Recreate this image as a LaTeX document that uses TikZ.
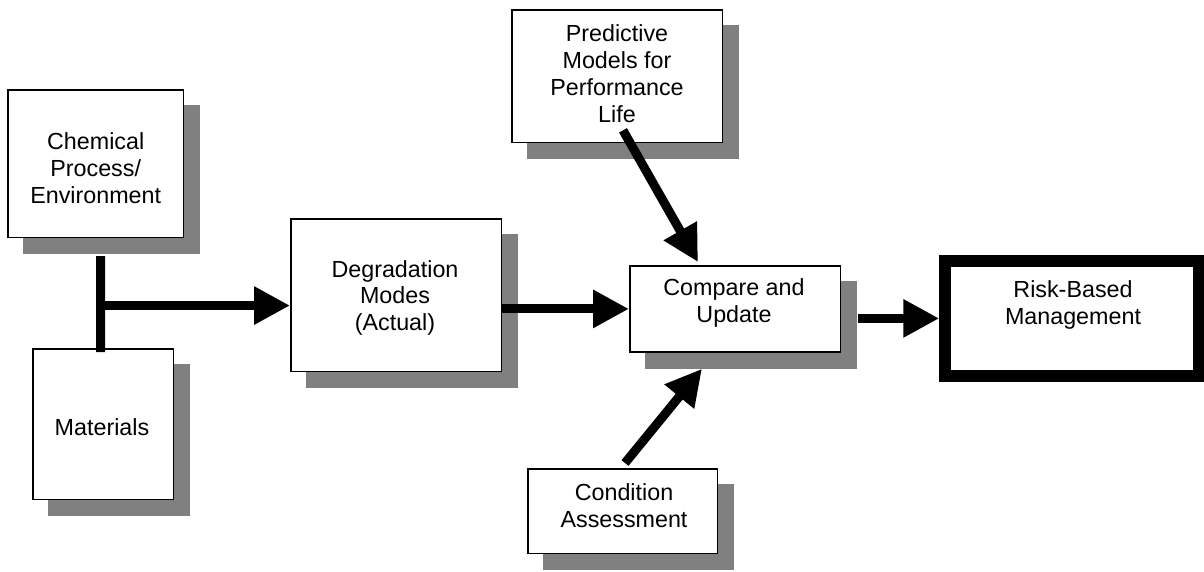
\documentclass[tikz,border=0pt]{standalone}
\usepackage{fontspec}
\setmainfont{Liberation Sans}
\usetikzlibrary{arrows.meta,calc,shadows}

\tikzset{
  box/.style={draw=black, line width=1.5pt, fill=white, inner sep=0pt,
    drop shadow={shadow xshift=16pt, shadow yshift=-16pt,
                 fill=black!50, draw=black!50, opacity=1}},
  bigbox/.style={draw=black, line width=11.5pt, fill=white, inner sep=0pt},
  % labels are placed by the baseline of their last line
  lbl/.style={anchor=base, align=center, inner sep=0pt,
    font=\fontsize{23.3}{26.8}\selectfont},
  link/.style={line width=9pt, black},
  arr/.style={link, -{Triangle[length=36pt,width=36pt]}}
}

\begin{document}
\begin{tikzpicture}[x=1pt,y=-1pt]
  \useasboundingbox (0,0) rectangle (1204,571);

  % boxes
  \node[box, minimum width=175.2pt, minimum height=147.2pt] (chem) at (95.7,163.7) {};
  \node[box, minimum width=140.5pt, minimum height=150.5pt] (mat) at (103,424) {};
  \node[box, minimum width=210.5pt, minimum height=152.5pt] (deg) at (396,295) {};
  \node[box, minimum width=210.5pt, minimum height=132.8pt] (pred) at (617,76.2) {};
  \node[box, minimum width=210.5pt, minimum height=86.2pt] (cmp) at (735,308.9) {};
  \node[box, minimum width=189.5pt, minimum height=84.5pt] (cond) at (622.5,511) {};
  \node[bigbox, minimum width=254pt, minimum height=115.2pt] (risk) at (1072,318.4) {};

  % labels
  \node[lbl] (chem-t) at (95.7,203.3) {Chemical\\Process/\\Environment};
  \node[lbl] (mat-t) at (102,435) {Materials};
  \node[lbl] (deg-t) at (395,330.7) {Degradation\\Modes\\(Actual)};
  \node[lbl] (pred-t) at (617,122.3) {Predictive\\Models for\\Performance\\Life};
  \node[lbl] (cmp-t) at (734,322.3) {Compare and\\Update};
  \node[lbl] (cond-t) at (624,527.3) {Condition\\Assessment};
  \node[lbl] (risk-t) at (1073,324) {Risk-Based\\Management};

  % connectors
  \draw[link] ($(chem.south)+(5,18)$) -- ($(mat.north)+(-2.5,4)$);
  \coordinate (jn) at ($(chem.south)+(5,67.5)$);
  \draw[arr] (jn) -- (jn -| deg.west);
  \draw[arr] (deg.east |- cmp.west) -- (cmp.west);
  \draw[arr] ($(pred.south)+(6,-13)$) -- ($(cmp.north)+(-37,-3)$);
  \draw[arr] ($(cond.north)+(2.5,-5)$) -- ($(cmp.south)+(-33,16)$);
  \coordinate (cmpsh) at ($(cmp.east)+(17,0)$);
  \draw[arr] (cmpsh |- risk.west) -- (risk.west);
\end{tikzpicture}
\end{document}
